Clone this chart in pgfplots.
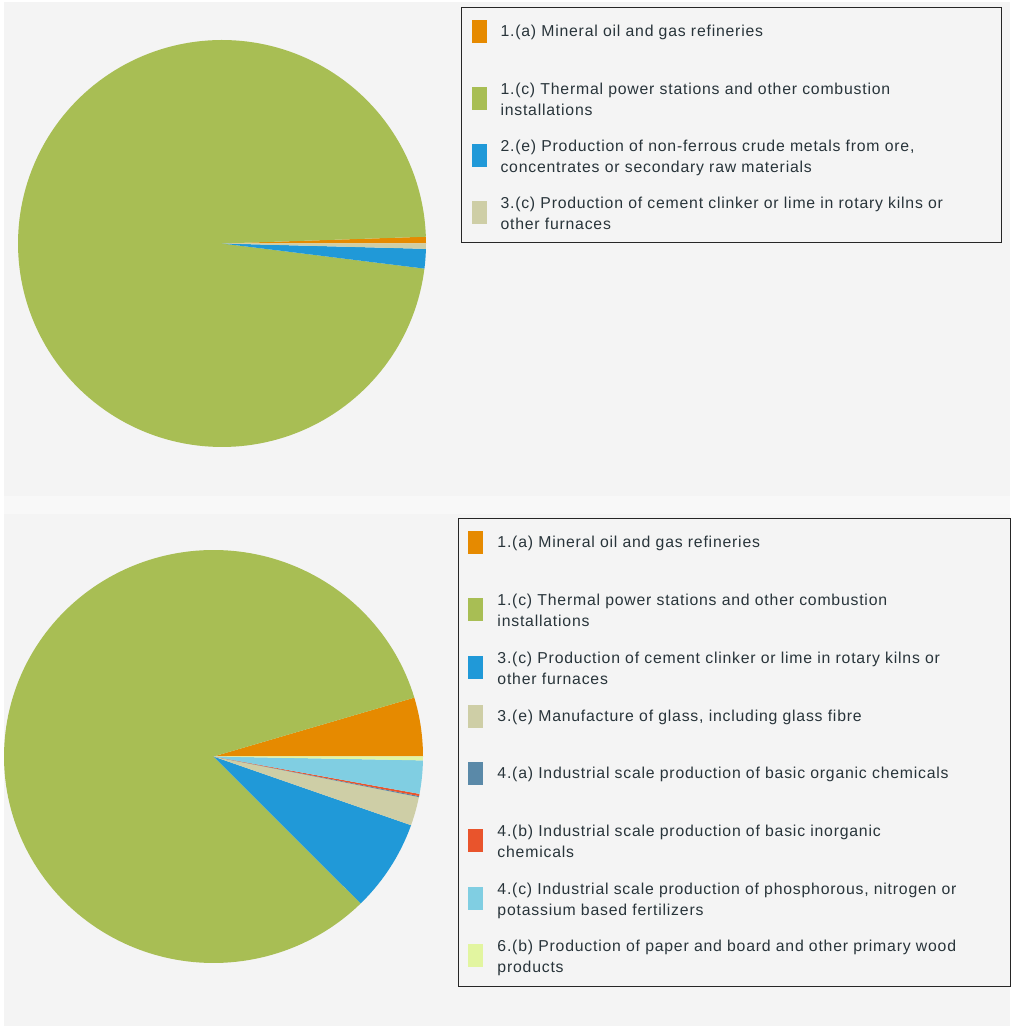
\documentclass[border=0pt]{standalone}
\usepackage{fontspec}
\setmainfont{Liberation Sans}
\newfontfamily\legfont{Liberation Sans}[LetterSpace=5]
\usepackage{pgfplots}
\pgfplotsset{compat=1.18}

\definecolor{bgc}{RGB}{244,244,244}
\definecolor{bgl}{RGB}{248,248,248}
\definecolor{txtc}{RGB}{40,52,58}
\definecolor{cOr}{RGB}{230,138,0}
\definecolor{cGr}{RGB}{168,190,84}
\definecolor{cBl}{RGB}{32,153,216}
\definecolor{cBe}{RGB}{206,206,166}
\definecolor{cSt}{RGB}{90,137,168}
\definecolor{cRe}{RGB}{233,84,44}
\definecolor{cLb}{RGB}{128,206,226}
\definecolor{cYe}{RGB}{226,245,160}

% ---- data: shares in percent ----
% top pie
\def\tA{0.53}  % 1.(a)
\def\tB{97.5}  % 1.(c)
\def\tC{1.55}  % 2.(e)
\def\tD{0.42}  % 3.(c)
% bottom pie
\def\bA{4.6}   % 1.(a)
\def\bB{82.8}  % 1.(c)
\def\bC{7.2}   % 3.(c)
\def\bD{2.25}  % 3.(e)
\def\bE{0.08}  % 4.(a)
\def\bF{0.17}  % 4.(b)
\def\bG{2.6}   % 4.(c)
\def\bH{0.3}   % 6.(b)

% cumulative angles
\pgfmathsetmacro{\tAa}{3.6*\tA}
\pgfmathsetmacro{\tBa}{\tAa+3.6*\tB}
\pgfmathsetmacro{\tCa}{\tBa+3.6*\tC}
\pgfmathsetmacro{\tDa}{\tCa+3.6*\tD}
\pgfmathsetmacro{\bAa}{3.6*\bA}
\pgfmathsetmacro{\bBa}{\bAa+3.6*\bB}
\pgfmathsetmacro{\bCa}{\bBa+3.6*\bC}
\pgfmathsetmacro{\bDa}{\bCa+3.6*\bD}
\pgfmathsetmacro{\bEa}{\bDa+3.6*\bE}
\pgfmathsetmacro{\bFa}{\bEa+3.6*\bF}
\pgfmathsetmacro{\bGa}{\bFa+3.6*\bG}
\pgfmathsetmacro{\bHa}{\bGa+3.6*\bH}

\newcommand\LT[1]{\rule{0pt}{26.5bp}\parbox[t]{491bp}{#1}}
\newcommand\LB[1]{\rule{0pt}{26.5bp}\parbox[t]{503bp}{#1}}

\pgfplotsset{
  % swatch centred on the first line; invisible path fixes the row depth
  swS/.style 2 args={legend image code/.code={\path[fill=none,draw=none] (0bp,-#2) rectangle (15bp,16.5bp);
      \fill[#1] (0bp,-6.5bp) rectangle (15bp,16.5bp);}},
  % swatch centred between the two lines
  swD/.style 2 args={legend image code/.code={\path[fill=none,draw=none] (0bp,-#2) rectangle (15bp,7.5bp);
      \fill[#1] (0bp,-15.5bp) rectangle (15bp,7.5bp);}},
  pieax/.style={scale only axis, anchor=center, xmin=-1, xmax=1, ymin=-1, ymax=1,
    hide axis, clip=false,
    legend style={draw=black!85, line width=1bp, fill=none, anchor=north west,
      inner xsep=10bp, inner ysep=3bp, row sep=0pt, column sep=14bp,
      font=\legfont\fontsize{15.8bp}{21bp}\selectfont, text=txtc,
      nodes={inner sep=0pt}, cells={anchor=base west}}},
}

\begin{document}
\begin{tikzpicture}
\fill[white] (0bp,0bp) rectangle (1010bp,1026bp);
\fill[bgc] (4bp,0bp) rectangle (1010bp,1024bp);
\fill[bgl] (4bp,512bp) rectangle (1010bp,530bp);

\begin{axis}[pieax, at={(222bp,782.5bp)}, width=408bp, height=407bp,
  legend style={at={(1.0858,1.0811)}}]
\addplot[fill=cOr, draw=none, domain=0:\tAa, samples=4, swS={cOr}{30.8bp}] ({cos(x)},{sin(x)}) -- (0,0) -- cycle;
\addlegendentry{\LT{1.(a) Mineral oil and gas refineries}}
\addplot[fill=cGr, draw=none, domain=\tAa:\tBa, samples=200, swD={cGr}{30.8bp}] ({cos(x)},{sin(x)}) -- (0,0) -- cycle;
\addlegendentry{\LT{1.(c) Thermal power stations and other combustion\\installations}}
\addplot[fill=cBl, draw=none, domain=\tBa:\tCa, samples=6, swD={cBl}{30.8bp}] ({cos(x)},{sin(x)}) -- (0,0) -- cycle;
\addlegendentry{\LT{2.(e) Production of non-ferrous crude metals from ore,\\concentrates or secondary raw materials}}
\addplot[fill=cBe, draw=none, domain=\tCa:\tDa, samples=4, swD={cBe}{30.8bp}] ({cos(x)},{sin(x)}) -- (0,0) -- cycle;
\addlegendentry{\LT{3.(c) Production of cement clinker or lime in rotary kilns or\\other furnaces}}
\end{axis}

\begin{axis}[pieax, at={(213.5bp,269.5bp)}, width=419bp, height=413bp,
  legend style={at={(1.0835,1.0775)}}]
\addplot[fill=cOr, draw=none, domain=0:\bAa, samples=12, swS={cOr}{31.2bp}] ({cos(x)},{sin(x)}) -- (0,0) -- cycle;
\addlegendentry{\LB{1.(a) Mineral oil and gas refineries}}
\addplot[fill=cGr, draw=none, domain=\bAa:\bBa, samples=180, swD={cGr}{31.2bp}] ({cos(x)},{sin(x)}) -- (0,0) -- cycle;
\addlegendentry{\LB{1.(c) Thermal power stations and other combustion\\installations}}
\addplot[fill=cBl, draw=none, domain=\bBa:\bCa, samples=16, swD={cBl}{31.2bp}] ({cos(x)},{sin(x)}) -- (0,0) -- cycle;
\addlegendentry{\LB{3.(c) Production of cement clinker or lime in rotary kilns or\\other furnaces}}
\addplot[fill=cBe, draw=none, domain=\bCa:\bDa, samples=8, swS={cBe}{31.2bp}] ({cos(x)},{sin(x)}) -- (0,0) -- cycle;
\addlegendentry{\LB{3.(e) Manufacture of glass, including glass fibre}}
\addplot[fill=cSt, draw=none, domain=\bDa:\bEa, samples=3, swS={cSt}{31.2bp}] ({cos(x)},{sin(x)}) -- (0,0) -- cycle;
\addlegendentry{\LB{4.(a) Industrial scale production of basic organic chemicals}}
\addplot[fill=cRe, draw=none, domain=\bEa:\bFa, samples=3, swD={cRe}{31.2bp}] ({cos(x)},{sin(x)}) -- (0,0) -- cycle;
\addlegendentry{\LB{4.(b) Industrial scale production of basic inorganic\\chemicals}}
\addplot[fill=cLb, draw=none, domain=\bFa:\bGa, samples=8, swD={cLb}{31.2bp}] ({cos(x)},{sin(x)}) -- (0,0) -- cycle;
\addlegendentry{\LB{4.(c) Industrial scale production of phosphorous, nitrogen or\\potassium based fertilizers}}
\addplot[fill=cYe, draw=none, domain=\bGa:\bHa, samples=3, swD={cYe}{31.2bp}] ({cos(x)},{sin(x)}) -- (0,0) -- cycle;
\addlegendentry{\LB{6.(b) Production of paper and board and other primary wood\\products}}
\end{axis}
\end{tikzpicture}
\end{document}
